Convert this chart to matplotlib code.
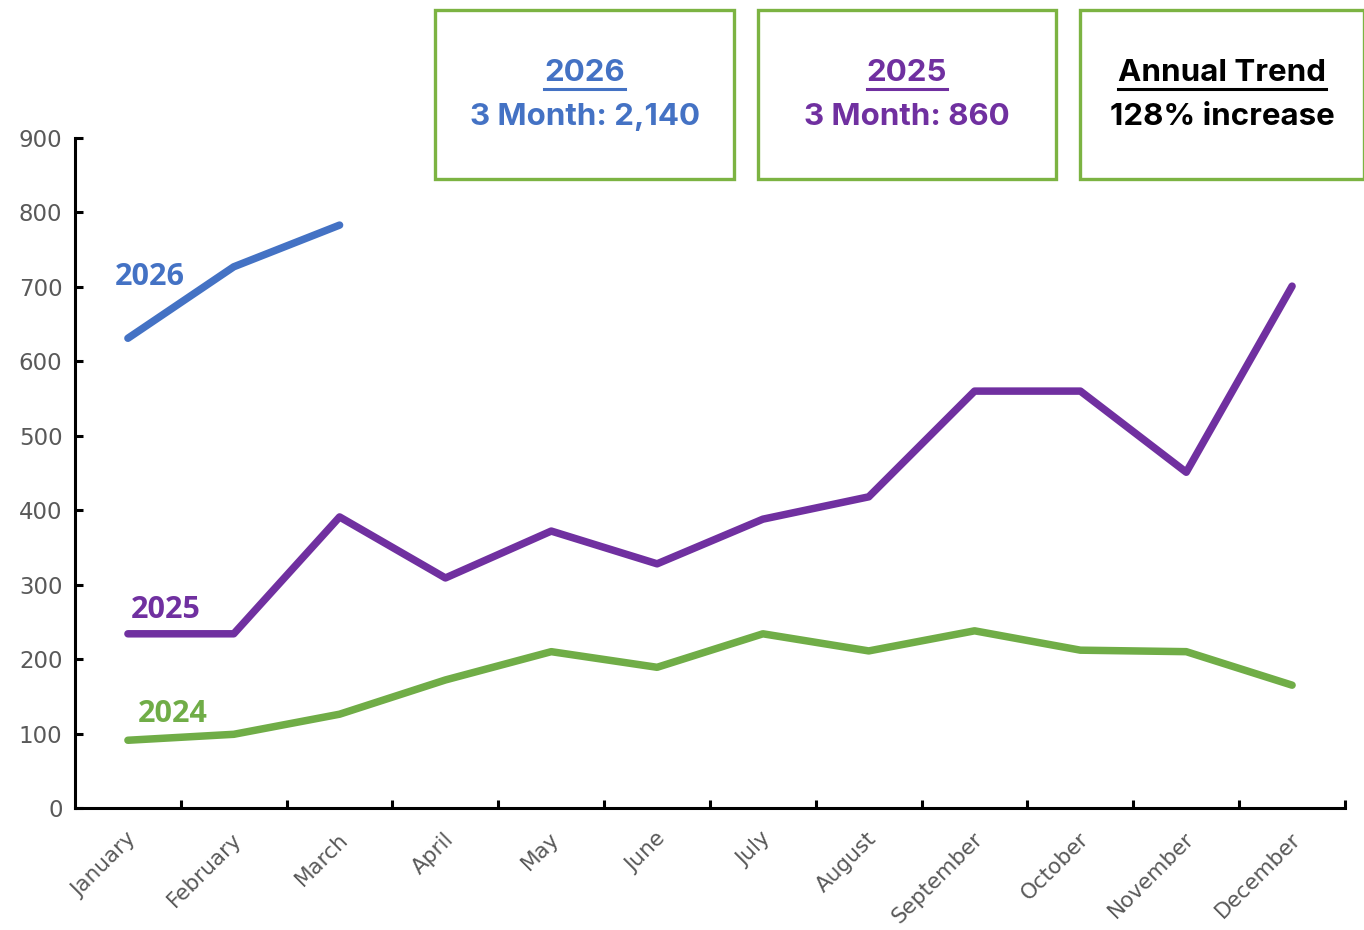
import matplotlib
matplotlib.use("Agg")
import matplotlib.pyplot as plt
from matplotlib.patches import Rectangle
from matplotlib.lines import Line2D

# Monthly values per year
months = ["January", "February", "March", "April", "May", "June", "July",
          "August", "September", "October", "November", "December"]
y2026 = [631, 727, 783]
y2025 = [234, 234, 391, 309, 372, 328, 388, 418, 560, 560, 451, 701]
y2024 = [91, 99, 126, 172, 210, 189, 234, 211, 238, 212, 210, 165]

blue = "#4472C4"
purple = "#7030A0"
green = "#70AD47"
box_green = "#7CB342"

fig = plt.figure(figsize=(13.64, 9.30), dpi=100)
ax = fig.add_axes([75 / 1364, 122 / 930, 1270 / 1364, 670 / 930])

x = list(range(12))
ax.plot(x, y2024, color=green, lw=5.4, solid_capstyle="round")
ax.plot(x, y2025, color=purple, lw=5.4, solid_capstyle="round")
ax.plot(x[:3], y2026, color=blue, lw=5.4, solid_capstyle="round")

ax.set_xlim(-0.5, 11.5)
ax.set_ylim(0, 900)
ax.spines["top"].set_visible(False)
ax.spines["right"].set_visible(False)
for s in ("left", "bottom"):
    ax.spines[s].set_linewidth(2.2)

ax.set_yticks(range(0, 901, 100))
ax.set_xticks([i + 0.5 for i in range(12)])
ax.set_xticklabels([])
ax.tick_params(axis="both", direction="in", length=6, width=2.2,
               colors="black", labelcolor="#595959", labelsize=16.5)
ax.tick_params(axis="y", pad=9)
for i, m in enumerate(months):
    ax.text(i - 0.02, -28, m, rotation=45, ha="right", va="top",
            fontsize=15.5, color="#595959", rotation_mode="anchor")

# series labels
lab_font = dict(fontsize=22, fontweight="bold", family="Open Sans", va="center", ha="left")
ax.text(-0.12, 713, "2026", color=blue, **lab_font)
ax.text(0.03, 266, "2025", color=purple, **lab_font)
ax.text(0.09, 126, "2024", color=green, **lab_font)

# summary boxes
W, H = 1364, 930
boxes = [
    (435, 734, "2026", "3 Month: 2,140", blue),
    (758, 1056, "2025", "3 Month: 860", purple),
    (1080, 1364, "Annual Trend", "128% increase", "black"),
]
titles = []
for x0, x1, t1, t2, c in boxes:
    fig.add_artist(Rectangle((x0 / W, 1 - 179 / H), (x1 - x0) / W, 169 / H,
                             transform=fig.transFigure, fill=False,
                             edgecolor=box_green, lw=2.4))
    cx = (x0 + x1) / 2 / W
    tt = fig.text(cx, 1 - 73 / H, t1, color=c, fontsize=22.5, fontweight="bold",
                  family="Inter", ha="center", va="center")
    fig.text(cx, 1 - 117 / H, t2, color=c, fontsize=22.5, fontweight="bold",
             family="Inter", ha="center", va="center")
    titles.append((tt, c))

fig.canvas.draw()
r = fig.canvas.get_renderer()
for tt, c in titles:
    bb = tt.get_window_extent(r).transformed(fig.transFigure.inverted())
    yl = bb.y0 - 2 / H
    fig.add_artist(Line2D([bb.x0, bb.x1], [yl, yl], transform=fig.transFigure,
                          color=c, lw=2.2))

fig.savefig("out.png", dpi=100)
